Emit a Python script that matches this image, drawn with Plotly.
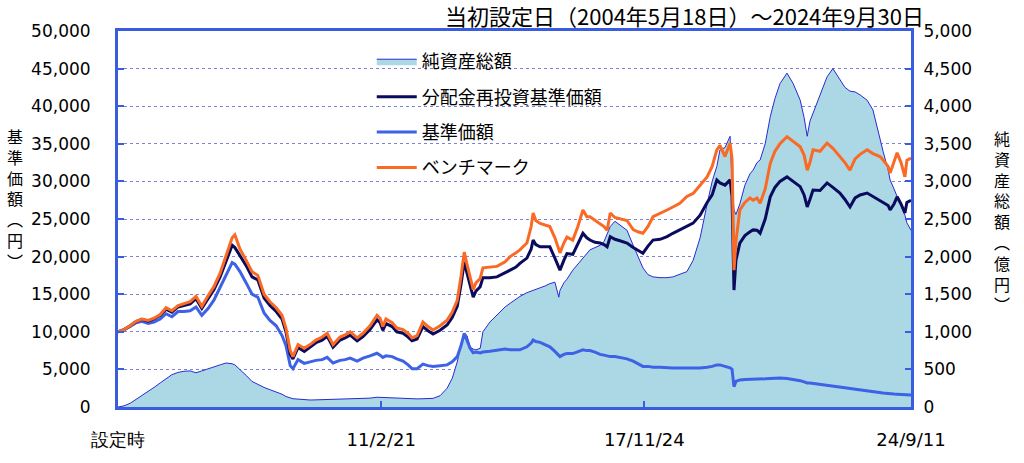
import plotly.graph_objects as go
import pandas as pd

# time in decimal years
years = [2004.377, 2004.53, 2004.69, 2004.84, 2004.99, 2005.15, 2005.30, 2005.46, 2005.61, 2005.76,
         2005.92, 2006.07, 2006.23, 2006.38, 2006.53, 2006.69, 2006.84, 2007.00, 2007.15, 2007.31,
         2007.38, 2007.51, 2007.67, 2007.82, 2007.97, 2008.13, 2008.28, 2008.44, 2008.59, 2008.69,
         2008.80, 2008.87, 2009.00, 2009.16, 2009.31,
         2009.46, 2009.62, 2009.75, 2009.90, 2010.08, 2010.21, 2010.34, 2010.52, 2010.67, 2010.85,
         2011.03, 2011.11, 2011.18, 2011.26, 2011.42, 2011.54, 2011.70, 2011.83, 2011.93, 2012.06,
         2012.21, 2012.34, 2012.47, 2012.65, 2012.83, 2012.96, 2013.09, 2013.19, 2013.27, 2013.34,
         2013.42, 2013.50, 2013.57, 2013.68, 2013.75, 2013.93, 2014.11, 2014.32, 2014.45,
         2014.60, 2014.70, 2014.88, 2014.99, 2015.04, 2015.11, 2015.22, 2015.35, 2015.47, 2015.60,
         2015.70, 2015.73, 2015.83, 2015.91, 2016.06, 2016.19, 2016.32, 2016.42, 2016.50, 2016.63,
         2016.76, 2016.86, 2016.94, 2017.02, 2017.14, 2017.27, 2017.45, 2017.61, 2017.73, 2017.86,
         2017.99, 2018.12, 2018.30, 2018.48, 2018.63, 2018.81, 2018.99, 2019.15, 2019.33, 2019.51,
         2019.64, 2019.76, 2019.84, 2019.97, 2020.10,
         2020.15, 2020.20, 2020.25, 2020.35, 2020.48, 2020.61, 2020.69, 2020.79, 2020.87, 2021.00,
         2021.13, 2021.25, 2021.38, 2021.56, 2021.72, 2021.90, 2022.00, 2022.08, 2022.15, 2022.23,
         2022.41, 2022.59, 2022.74, 2022.92, 2023.05, 2023.18, 2023.31, 2023.44, 2023.62, 2023.77,
         2023.95, 2024.03, 2024.16, 2024.21, 2024.31, 2024.39, 2024.49, 2024.59, 2024.64, 2024.746]

benchmark = [10000, 10300, 10800, 11400, 11700, 11500, 11800, 12300, 13200, 12800,
             13500, 13700, 14000, 14700, 13400, 14800, 16000, 17800, 20000, 22500,
             22900, 21000, 19500, 18000, 17500, 15000, 14000, 13200, 12200, 10500,
             7500, 6700, 8300, 7800, 8300,
             8900, 9300, 9800, 8300, 9300, 9600, 10000, 9200, 9800, 10800,
             12200, 11800, 10700, 11700, 11200, 10500, 10300, 9800, 9200, 9500,
             11300, 10700, 10250, 10800, 11550, 12600, 14200, 17500, 20600, 19000,
             17300, 15600, 16500, 17100, 18500, 18600, 18700, 19300, 20000,
             20500, 20900, 21800, 24000, 25800, 24800, 24400, 24200, 24000, 22500,
             21000, 20500, 21800, 22600, 22200, 24000, 26200, 25300, 25300, 24800,
             24400, 24000, 23500, 25800, 25200, 25000, 24800, 23600, 23300, 23100,
             24000, 25300, 25800, 26200, 26600, 27100, 28000, 28400, 29500, 30600,
             32000, 34200, 34800, 33300, 35100,
             33000, 18200, 22000, 26200, 27200, 27800, 27500, 27800, 27100, 29000,
             32400, 34000, 35000, 35950, 35300, 34600, 33500, 31500, 32500, 34200,
             34000, 35100, 34400, 33300, 32500, 31500, 33000, 33600, 34200, 33700,
             33300, 32850, 32000, 31100, 32500, 33800, 32500, 30600, 32800, 33100]

reinvested = [10000, 10300, 10800, 11350, 11650, 11400, 11700, 12200, 13000, 12600,
              13300, 13500, 13700, 14400, 13100, 14400, 15600, 17300, 19400, 21500,
              21200, 20200, 18800, 17300, 16900, 14500, 13500, 12700, 11700, 10000,
              7000, 6400, 7900, 7400, 8000,
              8550, 8900, 9400, 7950, 8900, 9200, 9550, 8800, 9350, 10300,
              11600, 11200, 10200, 11100, 10700, 10000, 9800, 9300, 8800, 9050,
              10700, 10150, 9700, 10200, 10900, 11900, 13400, 16400, 19300, 17800,
              16200, 14600, 15400, 16000, 17200, 17200, 17300, 17800, 18200,
              18600, 19100, 19800, 21000, 22200, 21600, 21300, 21300, 21300, 19800,
              18700, 18200, 19500, 20400, 20300, 21800, 23100, 22500, 22200, 21900,
              21800, 21600, 21300, 22650, 22300, 22100, 21800, 21200, 20800, 20450,
              21400, 22200, 22300, 22650, 23100, 23550, 24000, 24450, 25500, 27200,
              28200, 30200, 29800, 29500, 30200,
              28000, 15550, 19500, 21800, 22800, 23300, 23550, 23500, 23100, 25000,
              27950, 29200, 30000, 30600, 30000, 29300, 28200, 26600, 27600, 28850,
              28800, 29800, 29200, 28450, 27600, 26600, 27800, 28200, 28450, 28000,
              27500, 27300, 26800, 26200, 27000, 27950, 27000, 25800, 27200, 27500]

nav = [10000, 10250, 10700, 11200, 11400, 11100, 11300, 11700, 12400, 12000,
       12700, 12700, 12800, 13300, 12200, 13100, 14200, 15900, 17500, 19200,
       19000, 18000, 16500, 15000, 14600, 12500, 11500, 10800, 9500, 8200,
       5500, 5100, 6300, 5800, 6000,
       6200, 6300, 6600, 5850, 6200, 6300, 6500, 6100, 6500, 6800,
       7150, 6900, 6600, 6800, 6700, 6400, 6100, 5600, 5100, 5100,
       5700, 5500, 5400, 5500, 5600, 6000, 6700, 8200, 9800, 8900,
       7800, 7200, 7300, 7200, 7300, 7400, 7500, 7700, 7600,
       7600, 7600, 8000, 8500, 8900, 8700, 8600, 8300, 8000, 7400,
       6900, 6700, 7000, 7100, 7100, 7400, 7600, 7500, 7500, 7300,
       7000, 6900, 6800, 6700, 6700, 6600, 6400, 6100, 5800, 5400,
       5400, 5300, 5300, 5200, 5200, 5200, 5200, 5200, 5200, 5300,
       5400, 5600, 5600, 5400, 5200,
       5000, 2700, 3400, 3600, 3650, 3650, 3700, 3700, 3700, 3750,
       3800, 3850, 3850, 3800, 3700, 3500, 3350, 3200, 3200, 3150,
       3000, 2850, 2750, 2650, 2550, 2450, 2350, 2250, 2100, 2000,
       1900, 1850, 1800, 1750, 1720, 1700, 1680, 1620, 1600, 1580]

net_assets = [0, 15, 50, 100, 150, 205, 260, 320, 380, 430,
              460, 475, 480, 455, 480, 510, 530, 560, 585, 575,
              560, 500, 420, 340, 300, 260, 230, 200, 170, 140,
              120, 110, 105, 95, 93,
              95, 98, 100, 102, 105, 107, 108, 110, 112, 118,
              130, 128, 122, 120, 115, 112, 110, 108, 106, 108,
              110, 112, 115, 150, 250, 380, 600, 850, 980, 950,
              800, 770, 760, 780, 1000, 1130, 1220, 1330, 1380,
              1440, 1470, 1520, 1540, 1550, 1560, 1580, 1610, 1640, 1660,
              1460, 1550, 1650, 1700, 1820, 1900, 1980, 2040, 2090, 2120,
              2150, 2200, 2300, 2400, 2470, 2420, 2350, 2150, 2000, 1850,
              1760, 1730, 1720, 1720, 1730, 1760, 1800, 1950, 2250, 2700,
              3000, 3200, 3420, 3450, 3600,
              3000, 2620, 2560, 2700, 2950, 3100, 3150, 3250, 3285, 3500,
              3860, 4100, 4300, 4440, 4300, 4080, 3850, 3600, 3800, 3910,
              4150, 4390, 4500, 4350, 4250, 4200, 4190, 4150, 4080, 3950,
              3550, 3400, 3150, 3020, 2900, 2800, 2700, 2550, 2450, 2350]

tick_dates = ["2004-05-18", "2011-02-21", "2017-11-24", "2024-09-30"]
tick_labels = ["設定時", "11/2/21", "17/11/24", "24/9/11"]
left_ticks = list(range(0, 50001, 5000))
right_ticks = list(range(0, 5001, 500))
title_text = "当初設定日（2004年5月18日）～2024年9月30日"
left_title = ["基", "準", "価", "額", "︵", "円", "︶"]
right_title = ["純", "資", "産", "総", "額", "︵", "億", "円", "︶"]


def to_date(y):
    yr = int(y)
    start = pd.Timestamp(year=yr, month=1, day=1)
    days = (pd.Timestamp(year=yr + 1, month=1, day=1) - start).days
    return start + pd.Timedelta(days=(y - yr) * days)


dates = [to_date(y) for y in years]

AXIS_BLUE = "#3a5de0"
FONT = "DejaVu Sans"
CJK = "Noto Sans CJK JP"
W, H = 1024, 463
ML, MR, MT, MB = 118, 113, 31, 56
PW, PH = W - ML - MR, H - MT - MB

fig = go.Figure()
fig.add_trace(go.Scatter(x=dates, y=net_assets, name="純資産総額", yaxis="y",
                         fill="tozeroy", fillcolor="#acd8e5",
                         line=dict(color="#2a2ad2", width=1), legendrank=1,
                         legendgroup="a"))
fig.add_trace(go.Scatter(x=dates, y=nav, name="基準価額", yaxis="y2",
                         line=dict(color="#3d62e6", width=3), legendrank=3,
                         legendgroup="c"))
fig.add_trace(go.Scatter(x=dates, y=reinvested, name="分配金再投資基準価額", yaxis="y2",
                         line=dict(color="#0b0b5e", width=3), legendrank=2,
                         legendgroup="b"))
fig.add_trace(go.Scatter(x=dates, y=benchmark, name="ベンチマーク", yaxis="y2",
                         line=dict(color="#fb6a24", width=3), legendrank=4,
                         legendgroup="d"))

fig.update_layout(
    width=W, height=H,
    margin=dict(l=ML, r=MR, t=MT, b=MB, autoexpand=False),
    paper_bgcolor="white", plot_bgcolor="white",
    font=dict(family=FONT, size=17, color="black"),
    showlegend=True,
    legend=dict(x=0.32, y=0.968, xanchor="left", yanchor="top",
                bgcolor="rgba(0,0,0,0)", font=dict(family=CJK, size=18),
                tracegroupgap=9, itemwidth=40),
    xaxis=dict(type="date", range=["2004-05-18", "2024-09-30"],
               tickvals=tick_dates, ticktext=tick_labels,
               ticks="inside", ticklen=6, tickwidth=2, tickcolor=AXIS_BLUE,
               showline=True, linecolor=AXIS_BLUE, linewidth=3, mirror=True,
               showgrid=False, zeroline=False, ticklabelstandoff=14,
               tickfont=dict(family=FONT, size=18)),
    yaxis=dict(range=[0, 5000], side="right", tickvals=right_ticks,
               tickformat=",d", ticks="inside", ticklen=6, tickwidth=2,
               tickcolor=AXIS_BLUE, showline=True, linecolor=AXIS_BLUE,
               linewidth=3, showgrid=False, zeroline=False,
               ticklabelstandoff=6),
    yaxis2=dict(range=[0, 50000], side="left", overlaying="y",
                tickvals=left_ticks, tickformat=",d", ticks="inside",
                ticklen=6, tickwidth=2, tickcolor=AXIS_BLUE, showline=True,
                linecolor=AXIS_BLUE, linewidth=3, showgrid=True,
                gridcolor="#7c84d6", griddash="dot", gridwidth=1,
                zeroline=False, ticklabelstandoff=21),
)


def px_x(x):
    return (x - ML) / PW


def px_y(y):
    return (H - MB - y) / PH


fig.add_annotation(text=title_text, xref="paper", yref="paper",
                   x=px_x(926), y=px_y(15), xanchor="right", yanchor="middle",
                   showarrow=False, font=dict(family=CJK, size=22, color="black"))

fig.add_annotation(text="<br>".join(left_title), xref="paper", yref="paper",
                   x=px_x(15), y=px_y(198), xanchor="center", yanchor="middle",
                   showarrow=False, borderpad=0,
                   font=dict(family=CJK, size=16, color="black"))
fig.add_annotation(text="<br>".join(right_title), xref="paper", yref="paper",
                   x=px_x(1002), y=px_y(221), xanchor="center", yanchor="middle",
                   showarrow=False, borderpad=0,
                   font=dict(family=CJK, size=16, color="black"))

fig.write_html("out.html", config={"displayModeBar": False})

with open("out.html", "r", encoding="utf-8") as f:
    html = f.read()
html = html.replace("<body>", '<body style="margin:0;padding:0;">', 1)
with open("out.html", "w", encoding="utf-8") as f:
    f.write(html)
